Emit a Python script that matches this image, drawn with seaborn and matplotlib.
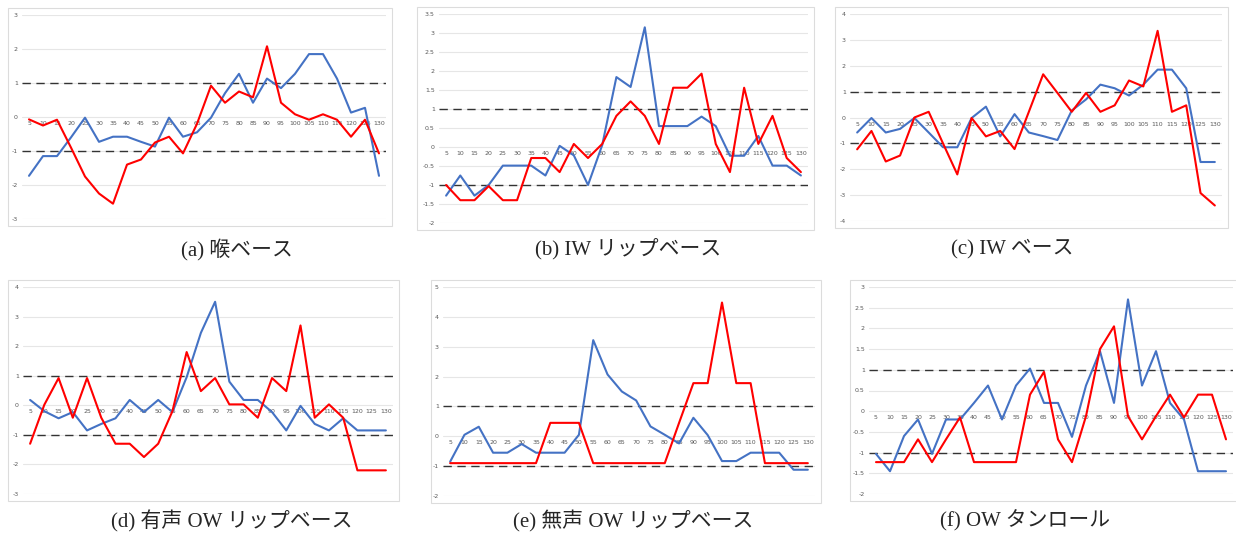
import numpy as np
import pandas as pd
import matplotlib
matplotlib.use("Agg")
import matplotlib.pyplot as plt
import seaborn as sns
from matplotlib.patches import Rectangle

# frame positions (category axis)
frames = [5, 10, 15, 20, 25, 30, 35, 40, 45, 50, 55, 60, 65,
          70, 75, 80, 85, 90, 95, 100, 105, 110, 115, 120, 125, 130]

# (a) 喉ベース
a_blue = [-1.73, -1.15, -1.15, -0.6, -0.02, -0.73, -0.58, -0.58, -0.73, -0.87, -0.02, -0.58, -0.45,
          -0.02, 0.7, 1.27, 0.42, 1.13, 0.85, 1.27, 1.85, 1.85, 1.13, 0.13, 0.27, -1.73]
a_red = [-0.07, -0.25, -0.08, -0.9, -1.75, -2.25, -2.55, -1.4, -1.25, -0.75, -0.58, -1.07, -0.2,
         0.92, 0.42, 0.75, 0.58, 2.08, 0.42, 0.08, -0.08, 0.08, -0.08, -0.58, -0.08, -1.07]

# (b) IW リップベース
b_blue = [-1.28, -0.75, -1.28, -1.0, -0.49, -0.49, -0.49, -0.75, 0.03, -0.22, -1.0, 0.05, 1.84,
          1.58, 3.15, 0.55, 0.55, 0.55, 0.8, 0.55, -0.23, -0.23, 0.29, -0.49, -0.49, -0.75]
b_red = [-1.0, -1.4, -1.4, -1.03, -1.4, -1.4, -0.29, -0.29, -0.66, 0.08, -0.29, 0.08, 0.82,
         1.2, 0.82, 0.08, 1.56, 1.56, 1.93, 0.08, -0.66, 1.56, 0.08, 0.82, -0.29, -0.66]

# (c) IW ベース
c_blue = [-0.58, -0.02, -0.58, -0.44, -0.02, -0.58, -1.15, -1.15, -0.02, 0.42, -0.73, 0.13, -0.58,
          -0.72, -0.87, 0.27, 0.7, 1.27, 1.13, 0.85, 1.27, 1.85, 1.85, 1.13, -1.72, -1.72]
c_red = [-1.23, -0.52, -1.7, -1.47, 0.0, 0.22, -1.0, -2.2, -0.02, -0.73, -0.52, -1.22, 0.22,
         1.67, 0.95, 0.22, 0.95, 0.22, 0.47, 1.43, 1.2, 3.35, 0.22, 0.47, -2.92, -3.4]

# (d) 有声 OW リップベース
d_blue = [0.18, -0.2, -0.44, -0.23, -0.85, -0.63, -0.44, 0.18, -0.23, 0.18, -0.23, 0.95, 2.45,
          3.5, 0.8, 0.18, 0.18, -0.23, -0.85, -0.02, -0.63, -0.85, -0.44, -0.85, -0.85, -0.85]
d_red = [-1.3, 0.02, 0.92, -0.42, 0.92, -0.42, -1.3, -1.3, -1.75, -1.3, -0.2, 1.8, 0.48,
         0.92, 0.03, 0.03, -0.42, 0.92, 0.48, 2.7, -0.42, 0.03, -0.42, -2.2, -2.2, -2.2]

# (e) 無声 OW リップベース
e_blue = [-0.85, 0.05, 0.32, -0.55, -0.55, -0.26, -0.55, -0.55, -0.55, 0.05, 3.22, 2.07, 1.5,
          1.2, 0.33, 0.05, -0.24, 0.62, 0.04, -0.83, -0.83, -0.55, -0.55, -0.55, -1.12, -1.12]
e_red = [-0.9, -0.9, -0.9, -0.9, -0.9, -0.9, -0.9, 0.45, 0.45, 0.45, -0.9, -0.9, -0.9,
         -0.9, -0.9, -0.9, 0.45, 1.78, 1.78, 4.48, 1.78, 1.78, -0.9, -0.9, -0.9, -0.9]

# (f) OW タンロール
f_blue = [-1.03, -1.45, -0.6, -0.2, -1.03, -0.2, -0.2, 0.2, 0.62, -0.2, 0.62, 1.03, 0.2,
          0.2, -0.62, 0.62, 1.45, 0.2, 2.7, 0.62, 1.45, 0.2, -0.2, -1.45, -1.45, -1.45]
f_red = [-1.23, -1.23, -1.23, -0.68, -1.23, -0.68, -0.15, -1.23, -1.23, -1.23, -1.23, 0.4, 0.95,
         -0.68, -1.23, -0.12, 1.5, 2.05, -0.12, -0.68, -0.12, 0.4, -0.15, 0.4, 0.4, -0.68]

captions = ["(a) 喉ベース", "(b) IW リップベース", "(c) IW ベース",
            "(d) 有声 OW リップベース", "(e) 無声 OW リップベース", "(f) OW タンロール"]

y_ticks = [
    [-3, -2, -1, 0, 1, 2, 3],
    [-2, -1.5, -1, -0.5, 0, 0.5, 1, 1.5, 2, 2.5, 3, 3.5],
    [-4, -3, -2, -1, 0, 1, 2, 3, 4],
    [-3, -2, -1, 0, 1, 2, 3, 4],
    [-2, -1, 0, 1, 2, 3, 4, 5],
    [-2, -1.5, -1, -0.5, 0, 0.5, 1, 1.5, 2, 2.5, 3],
]

series = [(a_blue, a_red), (b_blue, b_red), (c_blue, c_red),
          (d_blue, d_red), (e_blue, e_red), (f_blue, f_red)]

# pixel boxes: left, right, top, bottom of plot area
W, H = 1236, 535
boxes = [(22, 386, 15, 219), (439, 808, 14, 223), (850, 1222, 14, 221),
         (23, 393, 287, 494), (443, 815, 287, 496), (869, 1233, 287, 494)]
frame_left = [14, 22, 15, 15, 12, 19]
cap_pos = [(237, 249), (628, 249), (1012, 249), (232, 521), (633, 521), (1025, 521)]

sns.set_style("white")
plt.rcParams['font.family'] = ['Liberation Serif', 'Noto Sans CJK JP', 'DejaVu Sans']

fig = plt.figure(figsize=(W / 100, H / 100), dpi=100)

palette = {"blue": "#4472C4", "red": "#FF0000"}

for i, (box, (blue, red)) in enumerate(zip(boxes, series)):
    l, r, t, b = box
    fl = frame_left[i]
    # light frame around the chart
    fig.patches.append(Rectangle(((l - fl) / W, 1 - (b + 7) / H), (r - l + fl + 6) / W, (b - t + 14) / H,
                                 transform=fig.transFigure, fill=False,
                                 edgecolor="#dcdcdc", linewidth=0.8))
    ax = fig.add_axes([l / W, 1 - b / H, (r - l) / W, (b - t) / H])
    df = pd.DataFrame({
        "frame": frames * 2,
        "value": blue + red,
        "series": ["blue"] * len(frames) + ["red"] * len(frames),
    })
    ticks = y_ticks[i]
    for tv in ticks:
        ax.axhline(tv, color="#e6e6e6", linewidth=0.8, zorder=0)
    ax.axhline(1, color="#333333", linewidth=1.0, linestyle=(0, (6, 4)), zorder=1)
    ax.axhline(-1, color="#333333", linewidth=1.0, linestyle=(0, (6, 4)), zorder=1)
    sns.lineplot(data=df, x="frame", y="value", hue="series", palette=palette,
                 linewidth=1.5, legend=False, ax=ax, zorder=3)
    ax.set_xlim(2.5, 132.5)
    ax.set_ylim(ticks[0], ticks[-1])
    ax.set_yticks(ticks)
    ax.set_yticklabels([f"{tv:g}" for tv in ticks])
    ax.set_xticks(frames)
    ax.set_xticklabels([str(f) for f in frames])
    ax.set_xlabel("")
    ax.set_ylabel("")
    for s in ["top", "right", "left"]:
        ax.spines[s].set_visible(False)
    ax.spines["bottom"].set_position(("data", 0))
    ax.spines["bottom"].set_visible(False)
    ax.tick_params(axis="x", length=0, pad=3, labelsize=4.5, labelcolor="#595959")
    ax.tick_params(axis="y", length=0, pad=3, labelsize=4.5, labelcolor="#595959")
    for lab in ax.get_xticklabels() + ax.get_yticklabels():
        lab.set_family(["DejaVu Sans"])
    ax.patch.set_alpha(0)

    cx, cy = cap_pos[i]
    fig.text(cx / W, 1 - cy / H, captions[i], ha="center", va="center", fontsize=15,
             family=['Liberation Serif', 'Noto Sans CJK JP', 'DejaVu Sans'])

fig.savefig("out.png", dpi=100)
